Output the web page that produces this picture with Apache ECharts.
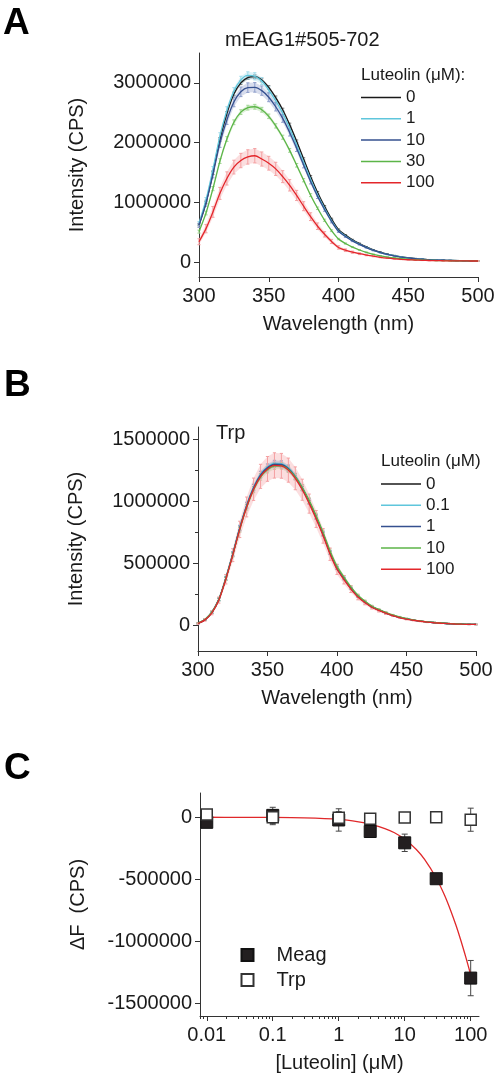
<!DOCTYPE html>
<html><head><meta charset="utf-8">
<script src="https://cdn.jsdelivr.net/npm/echarts@6/dist/echarts.min.js"></script>
<style>html,body{margin:0;padding:0;background:#fff}#c{width:498px;height:1081px}</style>
</head><body><div id="c"></div><script>
// ---------- Data ----------
const wavelengths = [300,305,310,315,320,325,330,335,340,345,350,355,360,365,370,375,380,385,390,395,400,405,410,415,420,425,430,435,440,445,450,455,460,465,470,475,480,485,490,495,500];

// Panel A: mEAG1#505-702, luteolin 0,1,10,30,100 uM
const aConc = ['0','1','10','30','100'];
const a0   = [622000,995000,1493000,2053000,2488000,2815000,3001000,3088000,3104000,3048000,2923000,2752000,2550000,2301000,2022000,1726000,1431000,1166000,933000,722000,544000,451000,373000,311000,255000,205000,165000,134000,109000,87000,72000,59000,50000,40000,34000,31000,28000,25000,22000,22000,19000];
const a1   = [650000,1040000,1550000,2110000,2540000,2860000,3050000,3125000,3110000,3030000,2880000,2700000,2490000,2240000,1960000,1670000,1385000,1125000,900000,695000,525000,435000,360000,300000,246000,198000,160000,130000,106000,85000,70000,58000,49000,40000,34000,30000,27000,25000,22000,21000,19000];
const a10  = [615000,985000,1470000,1990000,2380000,2680000,2850000,2920000,2925000,2870000,2760000,2600000,2405000,2170000,1905000,1625000,1350000,1100000,880000,680000,515000,428000,354000,295000,242000,195000,158000,128000,104000,84000,69000,57000,48000,39000,33000,30000,27000,24000,22000,21000,19000];
const a30  = [510000,820000,1230000,1690000,2060000,2340000,2510000,2585000,2600000,2550000,2440000,2280000,2090000,1870000,1620000,1370000,1120000,900000,700000,525000,385000,310000,250000,202000,162000,130000,104000,84000,68000,56000,46000,39000,33000,29000,26000,24000,22000,21000,20000,19000,18000];
const a100 = [340000,560000,840000,1150000,1400000,1590000,1700000,1760000,1780000,1725000,1655000,1560000,1430000,1285000,1115000,935000,760000,600000,465000,345000,245000,198000,165000,140000,118000,98000,80000,66000,55000,46000,39000,33000,29000,26000,24000,22000,21000,20000,19000,18000,18000];
const ea0   = [15000,20000,25000,30000,30000,30000,30000,30000,30000,30000,30000,28000,26000,24000,22000,20000,18000,16000,14000,12000,10000,9000,8000,7000,6000,5000,5000,4000,4000,3000,3000,3000,3000,3000,3000,3000,3000,3000,3000,3000,3000];
const ea1   = [30000,40000,50000,55000,60000,60000,60000,60000,60000,58000,55000,52000,48000,44000,40000,35000,30000,26000,22000,18000,15000,12000,10000,9000,8000,7000,6000,5000,5000,4000,4000,4000,3000,3000,3000,3000,3000,3000,3000,3000,3000];
const ea10  = [35000,50000,60000,70000,75000,80000,80000,80000,80000,78000,75000,70000,65000,60000,54000,48000,42000,36000,30000,24000,19000,15000,12000,10000,8000,7000,6000,5000,5000,4000,4000,4000,3000,3000,3000,3000,3000,3000,3000,3000,3000];
const ea30  = [25000,30000,35000,40000,40000,40000,40000,40000,40000,40000,38000,36000,34000,32000,30000,27000,24000,21000,18000,15000,12000,10000,8000,7000,6000,5000,5000,4000,4000,3000,3000,3000,3000,3000,3000,3000,3000,3000,3000,3000,3000];
const ea100 = [50000,70000,90000,100000,110000,115000,120000,120000,120000,118000,115000,110000,100000,95000,85000,75000,65000,55000,45000,35000,28000,22000,18000,15000,12000,10000,8000,7000,6000,5000,5000,4000,4000,4000,3000,3000,3000,3000,3000,3000,3000];

// Panel B: Trp, luteolin 0,0.1,1,10,100 uM
const bConc = ['0','0.1','1','10','100'];
const b0   = [16000,46000,104000,208000,377000,572000,780000,962000,1105000,1209000,1268000,1296000,1294000,1261000,1196000,1105000,995000,871000,735000,585000,462000,377000,299000,234000,189000,150000,124000,101000,81000,65000,52000,42000,34000,27000,22000,18000,14000,12000,9000,8000,7000];
const b01  = [17000,47000,106000,211000,382000,578000,788000,972000,1116000,1220000,1280000,1308000,1305000,1271000,1204000,1112000,1000000,875000,738000,588000,464000,378000,300000,235000,190000,151000,124000,101000,81000,65000,52000,42000,34000,27000,22000,18000,14000,12000,9000,8000,7000];
const b1   = [16000,46000,105000,209000,378000,574000,783000,966000,1110000,1214000,1273000,1301000,1299000,1265000,1199000,1108000,998000,873000,737000,587000,463000,378000,300000,235000,190000,151000,124000,101000,81000,65000,52000,42000,34000,27000,22000,18000,14000,12000,9000,8000,7000];
const b10  = [18000,48000,106000,209000,376000,568000,772000,952000,1094000,1196000,1255000,1284000,1286000,1258000,1198000,1112000,1006000,884000,750000,600000,476000,390000,310000,243000,196000,156000,129000,105000,84000,68000,54000,44000,35000,28000,23000,19000,15000,12000,10000,8000,7000];
const b100 = [15000,44000,101000,204000,372000,566000,774000,955000,1098000,1202000,1262000,1290000,1287000,1252000,1186000,1094000,982000,858000,722000,574000,452000,368000,292000,228000,184000,146000,120000,98000,79000,63000,50000,41000,33000,26000,21000,17000,14000,11000,9000,8000,7000];
const eb0   = [3000,5000,6000,8000,10000,12000,13000,14000,15000,15000,15000,15000,15000,15000,15000,14000,13000,12000,11000,10000,9000,8000,7000,6000,5000,5000,4000,4000,3000,3000,3000,3000,3000,2000,2000,2000,2000,2000,2000,2000,2000];
const eb01  = [4000,6000,9000,12000,15000,18000,21000,23000,25000,25000,25000,25000,25000,25000,24000,23000,21000,19000,17000,15000,13000,11000,9000,8000,7000,6000,5000,5000,4000,4000,4000,3000,3000,3000,3000,3000,2000,2000,2000,2000,2000];
const eb1   = [4000,6000,9000,12000,16000,19000,22000,24000,26000,27000,27000,27000,27000,26000,25000,24000,22000,20000,18000,16000,13000,11000,9000,8000,7000,6000,5000,5000,4000,4000,4000,3000,3000,3000,3000,3000,2000,2000,2000,2000,2000];
const eb10  = [4000,6000,8000,11000,14000,17000,20000,22000,24000,24000,25000,25000,25000,25000,24000,23000,22000,20000,18000,16000,14000,12000,10000,8000,7000,6000,5000,5000,4000,4000,4000,3000,3000,3000,3000,3000,2000,2000,2000,2000,2000];
const eb100 = [6000,10000,16000,25000,38000,52000,66000,80000,90000,97000,100000,102000,100000,97000,92000,85000,77000,68000,59000,50000,41000,34000,27000,22000,18000,14000,12000,10000,8000,7000,6000,5000,4000,4000,3000,3000,3000,3000,2000,2000,2000];

// Panel C: dF vs luteolin concentration
const cConc   = [0.01, 0.1, 1, 3, 10, 30, 100];
const meag    = [-41000, 15000, -22000, -115000, -206000, -495000, -1295000];
const meagErr = [10000, 65000, 90000, 30000, 70000, 30000, 142000];
const trp     = [22000, 0, -5000, -13000, -3000, 0, -20000];
const trpErr  = [15000, 60000, 50000, 20000, 10000, 10000, 93000];
const fitX    = [0.01,0.03,0.1,0.3,1,2,3,5,7,10,15,20,30,40,50,60,70,80,90,100];
const fitY    = [0,-1000,-2000,-6000,-18000,-37000,-55000,-91000,-125000,-177000,-260000,-340000,-489000,-626000,-754000,-872000,-982000,-1085000,-1180000,-1270000];

// Tick values
const aYTicks = [0,1000000,2000000,3000000];
const bYTicks = [0,500000,1000000,1500000];
const bYMinor = [250000,750000,1250000];
const cYTicks = [-1500000,-1000000,-500000,0];
const cXTicks = [0.01,0.1,1,10,100];
const cXMinor = [0.008,0.009,0.02,0.03,0.04,0.05,0.06,0.07,0.08,0.09,0.2,0.3,0.4,0.5,0.6,0.7,0.8,0.9,2,3,4,5,6,7,8,9,20,30,40,50,60,70,80,90];

// ---------- Styles ----------
const FONT = '"Liberation Sans", Arial, Helvetica, sans-serif';
const AX = '#333';
const TXT = '#1a1a1a';
const lineColors = ['#1a1a1a','#5fc6dc','#35508f','#5cb548','#e3262b'];
const errColors  = ['#777777','#a3dcea','#8e9ecb','#a3d796','#f4a0a2'];

function xVal(gi){
  return {gridIndex:gi,type:'value',min:300,max:500,interval:50,
    axisLine:{onZero:false,lineStyle:{color:AX,width:1}},
    axisTick:{length:5,lineStyle:{color:AX}},
    axisLabel:{fontSize:20,color:TXT,margin:9,fontFamily:FONT,formatter:v=>String(v)},
    splitLine:{show:false},
    name:'Wavelength (nm)',nameLocation:'middle',nameGap:37,
    nameTextStyle:{fontSize:20,color:TXT,fontFamily:FONT}};
}
function yVal(gi,min,max,ticks,name){
  return {gridIndex:gi,type:'value',min:min,max:max,
    axisLine:{show:true,onZero:false,lineStyle:{color:AX,width:1}},
    axisTick:{show:true,length:5,lineStyle:{color:AX},customValues:ticks},
    axisLabel:{fontSize:20,color:TXT,margin:8,fontFamily:FONT,customValues:ticks,formatter:v=>String(v)},
    splitLine:{show:false},
    name:name,nameLocation:'middle',nameGap:112,nameRotate:90,
    nameTextStyle:{fontSize:20,color:TXT,fontFamily:FONT}};
}

function errRender(capHalf){
  return function(params, api){
    const x = api.value(0), lo = api.value(1), hi = api.value(2);
    const p1 = api.coord([x, hi]), p2 = api.coord([x, lo]);
    const st = {stroke: api.visual('color'), lineWidth: 1};
    return {type:'group', children:[
      {type:'line', shape:{x1:p1[0],y1:p1[1],x2:p2[0],y2:p2[1]}, style:st},
      {type:'line', shape:{x1:p1[0]-capHalf,y1:p1[1],x2:p1[0]+capHalf,y2:p1[1]}, style:st},
      {type:'line', shape:{x1:p2[0]-capHalf,y1:p2[1],x2:p2[0]+capHalf,y2:p2[1]}, style:st}
    ]};
  };
}
// light band joining the error-bar ends (rendered once per series)
function bandRender(rows, color){
  return function(params, api){
    if (params.dataIndex !== 0) return null;
    const up = rows.map(r => api.coord([r[0], r[2]]));
    const dn = rows.map(r => api.coord([r[0], r[1]])).reverse();
    return {type:'polygon', shape:{points: up.concat(dn)}, style:{fill: color, opacity: 0.35}};
  };
}

const series = [];
function addSpectra(prefix, concs, vals, errs, xi, yi){
  vals.forEach((v,k)=>{
    const rows = wavelengths.map((w,i)=>[w, v[i]-errs[k][i], v[i]+errs[k][i]]);
    series.push({type:'custom', xAxisIndex:xi, yAxisIndex:yi, z:1, silent:true,
      renderItem: bandRender(rows, errColors[k]), itemStyle:{color:errColors[k]},
      encode:{x:0,y:[1,2]}, data: rows});
    series.push({type:'custom', xAxisIndex:xi, yAxisIndex:yi, z:1, silent:true,
      renderItem: errRender(1.6), itemStyle:{color:errColors[k]},
      encode:{x:0,y:[1,2]}, data: rows});
  });
  vals.forEach((v,k)=>{
    series.push({type:'line', name: prefix+'|'+concs[k], xAxisIndex:xi, yAxisIndex:yi, z:2,
      symbol:'none', smooth:0.3, color:lineColors[k],
      lineStyle:{color:lineColors[k], width:1.3},
      data: wavelengths.map((w,i)=>[w, v[i]])});
  });
}
addSpectra('A', aConc, [a0,a1,a10,a30,a100], [ea0,ea1,ea10,ea30,ea100], 0, 0);
addSpectra('B', bConc, [b0,b01,b1,b10,b100], [eb0,eb01,eb1,eb10,eb100], 1, 1);

// Panel C
series.push({type:'custom', xAxisIndex:2, yAxisIndex:3, z:2, silent:true,
  renderItem: errRender(3), itemStyle:{color:'#444'}, encode:{x:0,y:[1,2]},
  data: cConc.map((c,i)=>[c, meag[i]-meagErr[i], meag[i]+meagErr[i]])});
series.push({type:'custom', xAxisIndex:2, yAxisIndex:3, z:2, silent:true,
  renderItem: errRender(3), itemStyle:{color:'#444'}, encode:{x:0,y:[1,2]},
  data: cConc.map((c,i)=>[c, trp[i]-trpErr[i], trp[i]+trpErr[i]])});
series.push({type:'line', name:'fit', xAxisIndex:2, yAxisIndex:3, z:3, symbol:'none', smooth:0.3,
  lineStyle:{color:'#e0282a', width:1.3}, data: fitX.map((x,i)=>[x, fitY[i]])});
series.push({type:'scatter', name:'Meag', xAxisIndex:2, yAxisIndex:3, z:4, symbol:'rect', symbolSize:12,
  itemStyle:{color:'#231f20', borderColor:'#111', borderWidth:1, opacity:1},
  data: cConc.map((c,i)=>[c, meag[i]])});
series.push({type:'scatter', name:'Trp', xAxisIndex:2, yAxisIndex:3, z:5, symbol:'rect', symbolSize:11,
  itemStyle:{color:'#ffffff', borderColor:'#333', borderWidth:1.5, opacity:1},
  data: cConc.map((c,i)=>[c, trp[i]])});

const titleStyle = {fontSize:20, color:TXT, fontWeight:'normal', fontFamily:FONT};
const legTitleStyle = {fontSize:17, color:TXT, fontWeight:'normal', fontFamily:FONT};
const panelStyle = {fontSize:37, color:'#000', fontWeight:'bold', fontFamily:FONT};

const option = {
  animation:false,
  backgroundColor:'#fff',
  title:[
    {text:'A', left:3, top:5, padding:0, textStyle:panelStyle},
    {text:'B', left:4, top:367, padding:0, textStyle:panelStyle},
    {text:'C', left:4, top:750, padding:0, textStyle:panelStyle},
    {text:'mEAG1#505-702', left:225, top:30, padding:0, textStyle:titleStyle},
    {text:'Trp', left:216, top:423, padding:0, textStyle:titleStyle},
    {text:'Luteolin (μM):', left:361, top:67, padding:0, textStyle:legTitleStyle},
    {text:'Luteolin (μM)', left:381, top:453, padding:0, textStyle:legTitleStyle}
  ],
  legend:[
    {data:aConc.map(c=>'A|'+c), orient:'vertical', left:361, top:89, padding:0, itemGap:4.3,
     icon:'rect', itemWidth:40, itemHeight:1.5, selectedMode:false,
     formatter:n=>n.split('|')[1],
     textStyle:{fontSize:17, color:TXT, fontFamily:FONT, lineHeight:17}},
    {data:bConc.map(c=>'B|'+c), orient:'vertical', left:381, top:475.5, padding:0, itemGap:4.3,
     icon:'rect', itemWidth:40, itemHeight:1.5, selectedMode:false,
     formatter:n=>n.split('|')[1],
     textStyle:{fontSize:17, color:TXT, fontFamily:FONT, lineHeight:17}},
    {data:['Meag','Trp'], orient:'vertical', left:240.5, top:945, padding:0, itemGap:5,
     itemWidth:12, itemHeight:12, selectedMode:false,
     textStyle:{fontSize:20, color:TXT, fontFamily:FONT, lineHeight:20, padding:[0,0,0,18]}}
  ],
  grid:[
    {left:199, top:53, width:279, height:224},
    {left:198, top:427, width:278, height:224},
    {left:200, top:793, width:279, height:223}
  ],
  xAxis:[
    xVal(0),
    xVal(1),
    {gridIndex:2, type:'log', logBase:10, min:0.0079, max:133.6, position:'bottom',
     axisLine:{onZero:false,lineStyle:{color:AX,width:1}},
     axisTick:{length:5,lineStyle:{color:AX},customValues:cXTicks},
     axisLabel:{fontSize:20,color:TXT,margin:9,fontFamily:FONT,customValues:cXTicks,formatter:v=>String(v)},
     splitLine:{show:false}, minorTick:{show:false},
     name:'[Luteolin] (μM)', nameLocation:'middle', nameGap:37,
     nameTextStyle:{fontSize:20,color:TXT,fontFamily:FONT}},
    {gridIndex:2, type:'log', logBase:10, min:0.0079, max:133.6, position:'bottom',
     axisLine:{show:false,onZero:false}, axisLabel:{show:false},
     axisTick:{length:3,lineStyle:{color:AX},customValues:cXMinor},
     splitLine:{show:false}}
  ],
  yAxis:[
    yVal(0,-250000,3500000,aYTicks,'Intensity (CPS)'),
    yVal(1,-207000,1600000,bYTicks,'Intensity (CPS)'),
    {gridIndex:1, type:'value', min:-207000, max:1600000, position:'left',
     axisLine:{show:false,onZero:false}, axisLabel:{show:false},
     axisTick:{show:true,length:3,lineStyle:{color:AX},customValues:bYMinor},
     splitLine:{show:false}},
    yVal(2,-1600000,195000,cYTicks,'ΔF  (CPS)')
  ],
  series: series
};
const chart = echarts.init(document.getElementById('c'), null, {renderer:'canvas'});
chart.setOption(option);
</script></body></html>
